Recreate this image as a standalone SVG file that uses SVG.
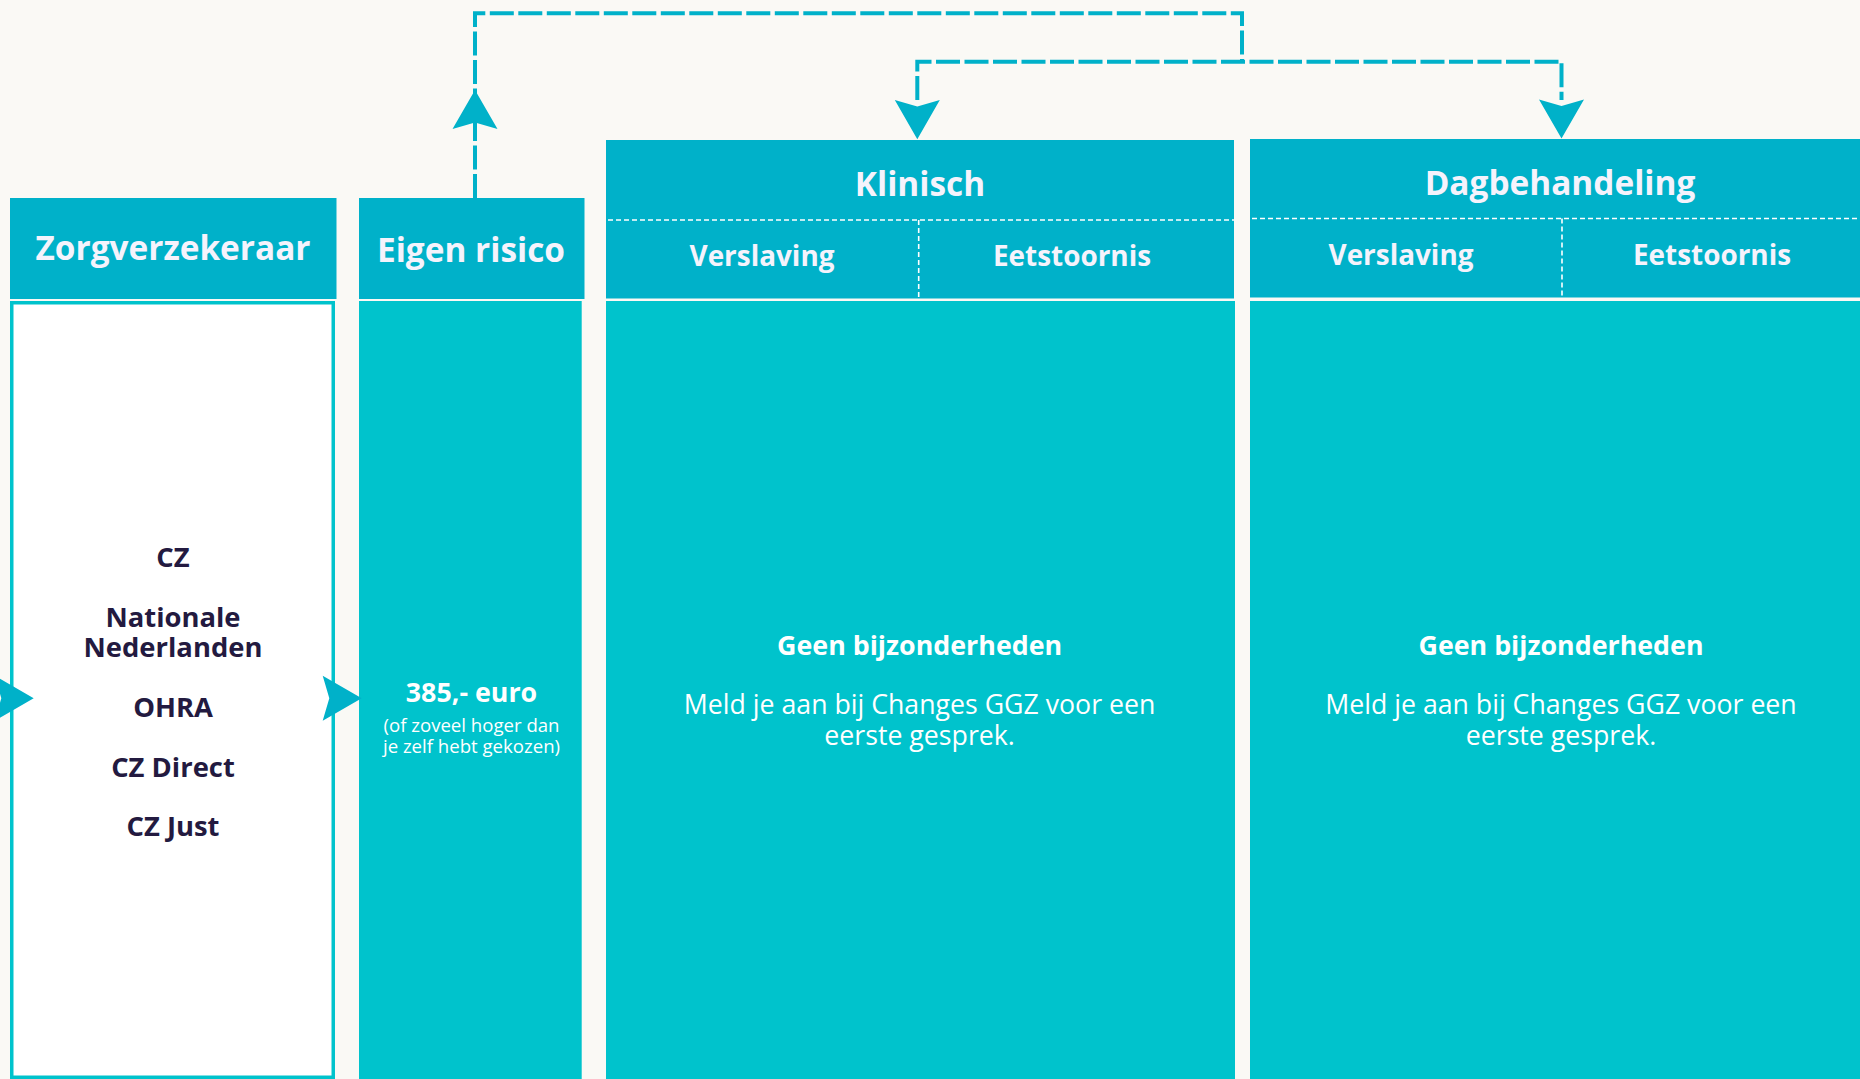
<svg xmlns="http://www.w3.org/2000/svg" width="1860" height="1079" viewBox="0 0 1860 1079">
  <style>
    .hdr { fill: #00B1C9; }
    .body { fill: #00C3CC; }
    .ht { font-family: "Open Sans", "DejaVu Sans", sans-serif; font-weight: 700; fill: #F5F3FC; text-anchor: middle; }
    .t-main { font-size: 33.4px; }
    .t-sub { font-size: 27.9px; }
    .dark { font-family: "Open Sans", "DejaVu Sans", sans-serif; font-weight: 700; font-size: 27.4px; fill: #231A40; text-anchor: middle; }
    .wb { font-family: "Open Sans", "DejaVu Sans", sans-serif; font-weight: 700; font-size: 26.8px; fill: #FFFFFF; text-anchor: middle; }
    .wr { font-family: "Open Sans", "DejaVu Sans", sans-serif; font-weight: 400; font-size: 26.7px; fill: #FFFFFF; text-anchor: middle; }
    .ws { font-family: "Open Sans", "DejaVu Sans", sans-serif; font-weight: 400; font-size: 18.6px; fill: #FFFFFF; text-anchor: middle; }
    .split { fill: none; stroke: #FFFFFF; stroke-width: 1.6; stroke-dasharray: 5 3; }
    .conn { fill: none; stroke: #00B1C9; stroke-width: 4; stroke-dasharray: 24 4.5; }
    .arrow { fill: #00B1C9; }
  </style>
  <rect x="0" y="0" width="1860" height="1079" fill="#FAF9F5"/>

  <g id="zorgverzekeraar">
    <rect class="hdr" x="10" y="198" width="326.5" height="101"/>
    <text class="ht t-main" x="173" y="260">Zorgverzekeraar</text>
    <rect x="11.75" y="302.75" width="321.5" height="774.5" fill="#FFFFFF" stroke="#00C3CC" stroke-width="3.5"/>
    <text class="dark" x="173" y="566.7">CZ</text>
    <text class="dark" x="173" y="627.3">Nationale</text>
    <text class="dark" x="173" y="656.7">Nederlanden</text>
    <text class="dark" x="173" y="716.7">OHRA</text>
    <text class="dark" x="173" y="776.7">CZ Direct</text>
    <text class="dark" x="173" y="836">CZ Just</text>
  </g>

  <g id="eigen-risico">
    <rect class="hdr" x="359" y="198" width="225.5" height="101"/>
    <text class="ht t-main" x="471" y="261.5">Eigen risico</text>
    <rect class="body" x="359" y="301" width="222.7" height="778"/>
    <text class="wb" x="471.5" y="701.7" font-size="25.7">385,- euro</text>
    <text class="ws" x="471.5" y="732">(of zoveel hoger dan</text>
    <text class="ws" x="471.5" y="753">je zelf hebt gekozen)</text>
  </g>

  <g id="klinisch">
    <rect class="hdr" x="606" y="140" width="628" height="158.5"/>
    <text class="ht t-main" x="920" y="196">Klinisch</text>
    <line class="split" x1="608" y1="220" x2="1234" y2="220"/>
    <line class="split" x1="918.7" y1="220" x2="918.7" y2="298"/>
    <text class="ht t-sub" x="762" y="266">Verslaving</text>
    <text class="ht t-sub" x="1072" y="266">Eetstoornis</text>
    <rect class="body" x="606" y="301" width="629" height="778"/>
    <text class="wb" x="919.6" y="655">Geen bijzonderheden</text>
    <text class="wr" x="919.6" y="714.3">Meld je aan bij Changes GGZ voor een</text>
    <text class="wr" x="919.6" y="745">eerste gesprek.</text>
  </g>

  <g id="dagbehandeling">
    <rect class="hdr" x="1250" y="139" width="610" height="158.5"/>
    <text class="ht t-main" x="1560" y="195">Dagbehandeling</text>
    <line class="split" x1="1252" y1="218.5" x2="1860" y2="218.5"/>
    <line class="split" x1="1562" y1="218.5" x2="1562" y2="297"/>
    <text class="ht t-sub" x="1401" y="265">Verslaving</text>
    <text class="ht t-sub" x="1712" y="265">Eetstoornis</text>
    <rect class="body" x="1250" y="301" width="610" height="778"/>
    <text class="wb" x="1561" y="655">Geen bijzonderheden</text>
    <text class="wr" x="1561" y="714.3">Meld je aan bij Changes GGZ voor een</text>
    <text class="wr" x="1561" y="745">eerste gesprek.</text>
  </g>

  <g id="connectors">
    <path class="conn" d="M475,198 V13.3 H1242 V61.7"/>
    <path class="conn" d="M917.3,100 V61.7 H1561.5 V100"/>
    <path class="arrow" d="M475,90 L497.5,129 L475,122.5 L452.5,129 Z"/>
    <path class="arrow" d="M917.3,139.3 L894.8,100 L917.3,106.6 L939.8,100 Z"/>
    <path class="arrow" d="M1561.5,138.5 L1539,99.5 L1561.5,106 L1584,99.5 Z"/>
    <path class="arrow" d="M361.7,698.3 L322.7,675.8 L329.3,698.3 L322.7,720.8 Z"/>
    <path class="arrow" d="M33.7,698.3 L-5.3,675.8 L1.3,698.3 L-5.3,720.8 Z"/>
  </g>
</svg>
